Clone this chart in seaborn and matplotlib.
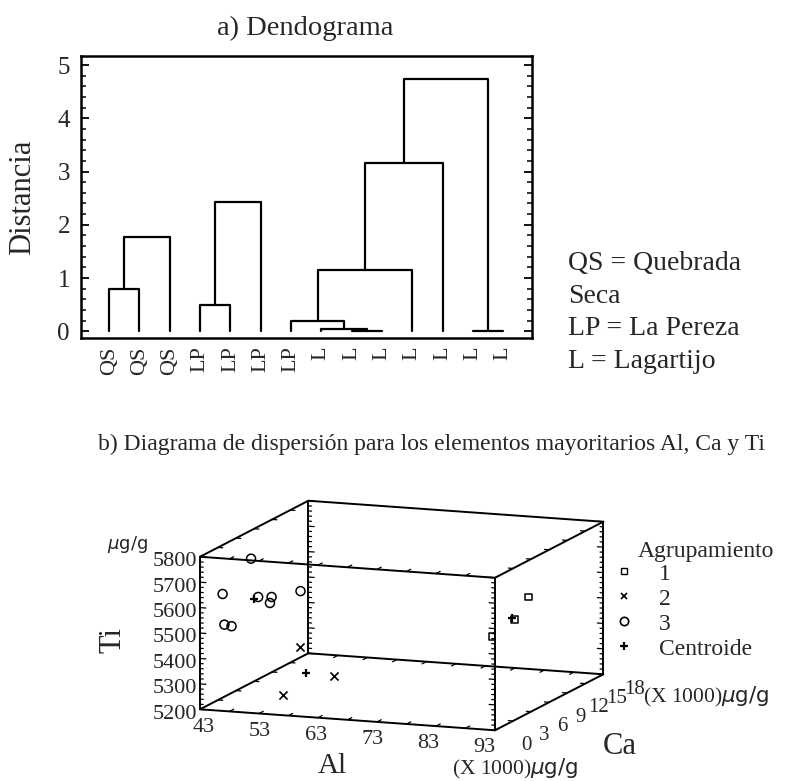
import numpy as np
import pandas as pd
import matplotlib
matplotlib.use("Agg")
import matplotlib.pyplot as plt
import seaborn as sns
from matplotlib.lines import Line2D
from matplotlib.ticker import MultipleLocator

sns.set_style("white")
plt.rcParams['font.family'] = ['Liberation Serif', 'DejaVu Serif']
plt.rcParams['mathtext.fontset'] = 'dejavusans'

# ---- a) dendrograma ----
hojas = ['QS', 'QS', 'QS', 'LP', 'LP', 'LP', 'LP', 'L', 'L', 'L', 'L', 'L', 'L', 'L']
# uniones como en un linkage: nodo izq, nodo der, distancia (nodos nuevos desde 14)
union_izq = [0, 14, 3, 16, 8, 7, 6, 20, 21, 12, 22]
union_der = [1, 2, 4, 5, 9, 18, 19, 10, 11, 13, 23]
union_dist = [0.80, 1.77, 0.50, 2.43, 0.01, 0.045, 0.19, 1.15, 3.16, 0.01, 4.74]

# ---- b) dispersion Al, Ca, Ti ----
grupo = [3, 3, 3, 3, 3, 3, 3, 3, 2, 2, 2, 1, 1, 1]
al = [49.1, 45.3, 45.1, 46.1, 50.0, 53.1, 51.8, 58.2, 55.8, 53.5, 61.2, 83.4, 82.0, 79.2]
ca = [2.5, 1.5, 2.0, 2.2, 2.8, 2.0, 3.0, 1.8, 4.0, 3.5, 4.5, 15.0, 14.0, 13.0]
ti = [5772, 5639, 5512, 5505, 5619, 5634, 5596, 5668, 5417, 5229, 5304, 5524, 5446, 5387]

al_ticks = [43, 53, 63, 73, 83, 93]
ca_ticks = [0, 3, 6, 9, 12, 15, 18]
ti_ticks = [5200, 5300, 5400, 5500, 5600, 5700, 5800]
marcas = {1: 's', 2: 'x', 3: 'o'}

W, H = 797, 781
fig = plt.figure(figsize=(W / 100, H / 100), dpi=100)


def fx(px):
    return px / W


def fy(py):
    return 1 - py / H


# ---------------- dendrograma ----------------
ax = fig.add_axes([fx(81), fy(338), (532 - 81) / W, (338 - 56) / H])
x_nodo = list(range(len(hojas)))
h_nodo = [0.0] * len(hojas)
for i, j, d in zip(union_izq, union_der, union_dist):
    ax.plot([x_nodo[i], x_nodo[i], x_nodo[j], x_nodo[j]],
            [h_nodo[i], d, d, h_nodo[j]], color='black', lw=1.6)
    x_nodo.append((x_nodo[i] + x_nodo[j]) / 2)
    h_nodo.append(d)

ax.set_xlim(-0.93, len(hojas) - 1 + 0.95)
ax.set_ylim(-0.126, 5.17)
ax.set_xticks(range(len(hojas)))
ax.set_xticklabels(hojas, rotation=90, fontsize=16)
ax.set_yticks(range(6))
ax.yaxis.set_minor_locator(MultipleLocator(0.2))
ax.tick_params(axis='x', length=0, pad=6)
ax.tick_params(axis='y', which='major', direction='in', left=True, right=True,
               length=6, width=1.3, labelsize=18, pad=8, color='black')
ax.tick_params(axis='y', which='minor', direction='in', left=True, right=True,
               length=3.5, width=1.1, color='black')
for s in ax.spines.values():
    s.set_color('black')
    s.set_linewidth(1.8)
ax.set_ylabel('Distancia', fontsize=22)
ax.yaxis.set_label_coords(-0.098, 0.5)

fig.text(fx(305), fy(28), 'a) Dendograma', ha='center', va='center', fontsize=20.5)
fig.text(fx(568), fy(251), 'QS = Quebrada\nSeca\nLP = La Pereza\nL = Lagartijo',
         ha='left', va='top', fontsize=20, linespacing=1.4)

# ---------------- dispersion 3D ----------------
fig.text(fx(432), fy(444),
         'b) Diagrama de dispersión para los elementos mayoritarios Al, Ca y Ti',
         ha='center', va='center', fontsize=17)

ax3 = fig.add_axes([0.1, 0.0, 0.5, 0.5 * W / H], projection='3d', proj_type='ortho')
ax3.view_init(elev=11.06, azim=-69.65)
ax3.set_box_aspect((314.6, 311.4, 155.4))
xl, yl, zl = (43, 93), (0, 18), (5200, 5800)
ax3.set_xlim(*xl)
ax3.set_ylim(*yl)
ax3.set_zlim(*zl)
ax3.set_axis_off()


def a_pantalla(x, y, z):
    M = ax3.get_proj()
    v = M @ np.array([x, y, z, 1.0])
    return ax3.transData.transform((v[0] / v[3], v[1] / v[3]))


# ajustar tamano y posicion de la caja a la figura de referencia
fig.canvas.draw()
p0 = a_pantalla(xl[0], yl[0], zl[0])
p1 = a_pantalla(xl[1], yl[1], zl[0])
obj0 = np.array([200.0, H - 709.3])
obj1 = np.array([603.3, H - 675.0])
k = (obj1[0] - obj0[0]) / (p1[0] - p0[0])
bb = ax3.get_position().transformed(fig.transFigure)
c_old = np.array([bb.x0 + bb.width / 2, bb.y0 + bb.height / 2])
c_new = obj0 - k * (p0 - c_old)
lado = bb.width * k
ax3.set_position([(c_new[0] - lado / 2) / W, (c_new[1] - lado / 2) / H, lado / W, lado / H])

# aristas de la caja
for a in xl:
    for b in yl:
        ax3.plot([a, a], [b, b], list(zl), color='black', lw=1.4)
for a in xl:
    for c in zl:
        ax3.plot([a, a], list(yl), [c, c], color='black', lw=1.4)
for b in yl:
    for c in zl:
        ax3.plot(list(xl), [b, b], [c, c], color='black', lw=1.4)

# marcas de graduacion
for t in np.arange(5200, 5801, 20):
    largo = 1.0 if t % 100 == 0 else 0.55
    for a, sgn in ((xl[0], 1), (xl[1], -1)):
        for b in yl:
            ax3.plot([a, a + sgn * largo], [b, b], [t, t], color='black', lw=0.9)
for t in np.arange(43, 93.1, 5):
    ax3.plot([t, t], [0, 0.7], [5200, 5200], color='black', lw=0.9)
    ax3.plot([t, t], [0, 0.7], [5800, 5800], color='black', lw=0.9)
    ax3.plot([t, t], [18, 17.3], [5200, 5200], color='black', lw=0.9)
for t in ca_ticks:
    ax3.plot([43, 43.8], [t, t], [5200, 5200], color='black', lw=0.9)
    ax3.plot([93, 92.2], [t, t], [5200, 5200], color='black', lw=0.9)
    ax3.plot([43, 43.8], [t, t], [5800, 5800], color='black', lw=0.9)
    ax3.plot([93, 92.2], [t, t], [5800, 5800], color='black', lw=0.9)

# puntos
df = pd.DataFrame({'grupo': grupo, 'al': al, 'ca': ca, 'ti': ti})
for g, sub in df.groupby('grupo'):
    if marcas[g] == 'x':
        ax3.scatter(sub.al, sub.ca, sub.ti, marker='x', s=34, color='black',
                    linewidths=1.2, depthshade=False)
    else:
        ax3.scatter(sub.al, sub.ca, sub.ti, marker=marcas[g], s=42 if g == 3 else 22,
                    facecolors='none', edgecolors='black', linewidths=1.1,
                    depthshade=False)
cen = df.groupby('grupo')[['al', 'ca', 'ti']].mean()
ax3.scatter(cen.al, cen.ca, cen.ti, marker='+', s=40, color='black',
            linewidths=1.6, depthshade=False)

# rotulos de los ejes: se proyectan los puntos 3D y se escriben en la figura
fig.canvas.draw()


def texto3d(x, y, z, s, **kw):
    px, py = a_pantalla(x, y, z)
    fig.text(px / W, py / H, s, **kw)


for t in ti_ticks:
    texto3d(xl[0] - 0.5, 0, t - 20, str(t), ha='right', va='center', fontsize=16)
for t in al_ticks:
    texto3d(43 + (t - 43) * 0.95 + 0.7, 0, 5130, str(t), ha='center', va='center',
            fontsize=16)
for t in ca_ticks:
    texto3d(98.25, t, 5150, str(t), ha='center', va='center', fontsize=15)
texto3d(34.2, 0, 5832, r'$\mu\mathrm{g/g}$', ha='right', va='center', fontsize=13)
texto3d(85.7, 0, 5036, r'(X 1000)$\mu\mathrm{g/g}$', ha='left', va='center',
        fontsize=15.5)
texto3d(99.7, 18, 5122, r'(X 1000)$\mu\mathrm{g/g}$', ha='left', va='center',
        fontsize=15.5)
texto3d(65.4, 0, 5012, 'Al', ha='center', va='center', fontsize=21)
texto3d(105, 9, 5046, 'Ca', ha='center', va='center', fontsize=22)
texto3d(28.25, 0, 5448, 'Ti', ha='center', va='center', fontsize=22, rotation=90)

# leyenda
fig.text(fx(638), fy(551), 'Agrupamiento', ha='left', va='center', fontsize=17)
manijas = [
    Line2D([], [], ls='none', marker='s', ms=4.5, mfc='none', mec='black', mew=1.0),
    Line2D([], [], ls='none', marker='x', ms=5, color='black', mew=1.2),
    Line2D([], [], ls='none', marker='o', ms=6, mfc='none', mec='black', mew=1.2),
    Line2D([], [], ls='none', marker='+', ms=6, color='black', mew=1.6),
]
fig.legend(manijas, ['1', '2', '3', 'Centroide'], loc='upper left',
           bbox_to_anchor=(fx(612), fy(563)), frameon=False, fontsize=17,
           handlelength=1.0, handletextpad=1.0, labelspacing=0.15,
           borderpad=0, borderaxespad=0)

fig.savefig('out.png', dpi=100)
